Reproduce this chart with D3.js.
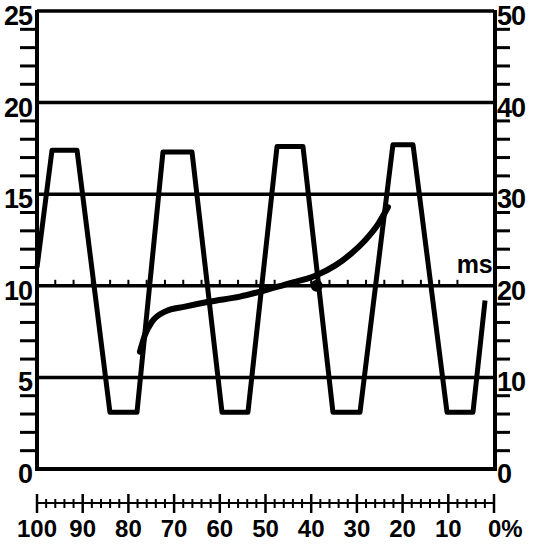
<!DOCTYPE html>
<html>
<head>
<meta charset="utf-8">
<script src="https://cdn.jsdelivr.net/npm/d3@7"></script>
<style>
  body { margin: 0; background: #fff; }
  text { font-family: 'Liberation Sans', Arial, sans-serif; font-weight: bold; fill: #000; }
</style>
</head>
<body>
<svg id="chart"></svg>
<script>
// trapezoid wave, time in ms vs left value
let waveMs = [0, 0.82, 2.19, 3.99, 5.47, 6.89, 8.48, 10.12, 11.54, 13.13, 14.55, 16.19, 17.67, 19.47, 20.57, 22.43, 23.85, 24.51]
let waveVal = [11.0, 17.4, 17.4, 3.1, 3.1, 17.3, 17.3, 3.1, 3.1, 17.6, 17.6, 3.1, 3.1, 17.7, 17.7, 3.1, 3.1, 9.2]
// smooth curve
let curveMs = [5.63, 5.91, 6.29, 7.0, 8.1, 9.46, 11.1, 12.2, 13.57, 15.26, 16.3, 17.12, 17.94, 18.65, 19.2]
let curveVal = [6.4, 7.33, 8.04, 8.59, 8.86, 9.14, 9.41, 9.68, 10.07, 10.56, 11.1, 11.7, 12.47, 13.35, 14.3]
let dotMs = [15.3]
let dotVal = [10]
let leftTicks = [0, 5, 10, 15, 20, 25]
let rightTicks = [0, 10, 20, 30, 40, 50]
let pctTicks = [100, 90, 80, 70, 60, 50, 40, 30, 20, 10, 0]

let width = 544
let height = 544
let svg = d3.select('#chart')
  .attr('width', width)
  .attr('height', height)

let x = d3.scaleLinear().domain([0, 25]).range([37, 494])
let y = d3.scaleLinear().domain([0, 25]).range([469, 11])
let yR = d3.scaleLinear().domain([0, 50]).range([469, 11])
let xp = d3.scaleLinear().domain([100, 0]).range([37, 494])

// horizontal grid lines
svg.selectAll('.grid')
  .data(leftTicks)
  .enter()
  .append('line')
  .attr('x1', 37)
  .attr('x2', 494)
  .attr('y1', (d) => y(d))
  .attr('y2', (d) => y(d))
  .attr('stroke', '#000')
  .attr('stroke-width', (d) => d === 0 ? 4 : 3.5)

// left axis
svg.append('line')
  .attr('x1', 37).attr('x2', 37)
  .attr('y1', y(25) - 1).attr('y2', y(0) + 2)
  .attr('stroke', '#000').attr('stroke-width', 4)
svg.selectAll('.ltick')
  .data(d3.range(0, 26).filter((d) => d % 5 !== 0))
  .enter()
  .append('line')
  .attr('x1', 20).attr('x2', 37)
  .attr('y1', (d) => y(d)).attr('y2', (d) => y(d))
  .attr('stroke', '#000').attr('stroke-width', 3)
svg.selectAll('.llabel')
  .data(leftTicks)
  .enter()
  .append('text')
  .attr('x', 32)
  .attr('y', (d) => y(d) + 14)
  .attr('text-anchor', 'end')
  .style('font-size', '27px')
  .style('letter-spacing', '-1px')
  .text((d) => d)

// right axis
svg.append('line')
  .attr('x1', 495).attr('x2', 495)
  .attr('y1', yR(50) - 1).attr('y2', yR(0) + 2)
  .attr('stroke', '#000').attr('stroke-width', 4)
svg.selectAll('.rtick')
  .data(d3.range(0, 51, 2).filter((d) => d % 10 !== 0))
  .enter()
  .append('line')
  .attr('x1', 495).attr('x2', 510)
  .attr('y1', (d) => yR(d)).attr('y2', (d) => yR(d))
  .attr('stroke', '#000').attr('stroke-width', 3)
svg.selectAll('.rlabel')
  .data(rightTicks)
  .enter()
  .append('text')
  .attr('x', 497)
  .attr('y', (d) => yR(d) + 14)
  .attr('text-anchor', 'start')
  .style('font-size', '27px')
  .style('letter-spacing', '-1px')
  .text((d) => d)

// ms scale along the 10 line
svg.selectAll('.mstick')
  .data(d3.range(1, 24))
  .enter()
  .append('line')
  .attr('x1', (d) => x(d)).attr('x2', (d) => x(d))
  .attr('y1', y(10)).attr('y2', y(10) - 6)
  .attr('stroke', '#000').attr('stroke-width', 2)
svg.append('text')
  .attr('x', x(24) - 1)
  .attr('y', y(10) - 13)
  .attr('text-anchor', 'middle')
  .style('font-size', '25px')
  .text('ms')

// percent axis at bottom
svg.append('line')
  .attr('x1', 37).attr('x2', 494)
  .attr('y1', 503).attr('y2', 503)
  .attr('stroke', '#000').attr('stroke-width', 2)
svg.selectAll('.ptick')
  .data(d3.range(0, 101, 2))
  .enter()
  .append('line')
  .attr('x1', (d) => xp(d)).attr('x2', (d) => xp(d))
  .attr('y1', (d) => d % 10 === 0 ? 494 : 499)
  .attr('y2', (d) => d % 10 === 0 ? 513 : 508)
  .attr('stroke', '#000')
  .attr('stroke-width', (d) => d % 10 === 0 ? 2.5 : 2)
svg.selectAll('.plabel')
  .data(pctTicks)
  .enter()
  .append('text')
  .attr('x', (d) => d === 0 ? xp(d) - 6 : xp(d))
  .attr('y', 537)
  .attr('text-anchor', (d) => d === 0 ? 'start' : 'middle')
  .style('font-size', '24px')
  .text((d) => d === 0 ? '0%' : d)

// wave
let line = d3.line()
  .x((d) => x(d[0]))
  .y((d) => y(d[1]))
svg.append('path')
  .datum(waveMs.map((d, i) => [d, waveVal[i]]))
  .attr('d', line)
  .attr('fill', 'none')
  .attr('stroke', '#000')
  .attr('stroke-width', 5)
  .attr('stroke-linejoin', 'round')

// smooth curve
let smooth = d3.line()
  .x((d) => x(d[0]))
  .y((d) => y(d[1]))
  .curve(d3.curveMonotoneX)
svg.append('path')
  .datum(curveMs.map((d, i) => [d, curveVal[i]]))
  .attr('d', smooth)
  .attr('fill', 'none')
  .attr('stroke', '#000')
  .attr('stroke-width', 6)
  .attr('stroke-linecap', 'round')

svg.selectAll('.dot')
  .data(dotMs)
  .enter()
  .append('circle')
  .attr('cx', (d) => x(d))
  .attr('cy', (d, i) => y(dotVal[i]))
  .attr('r', 6)
  .attr('fill', '#000')
</script>
</body>
</html>
